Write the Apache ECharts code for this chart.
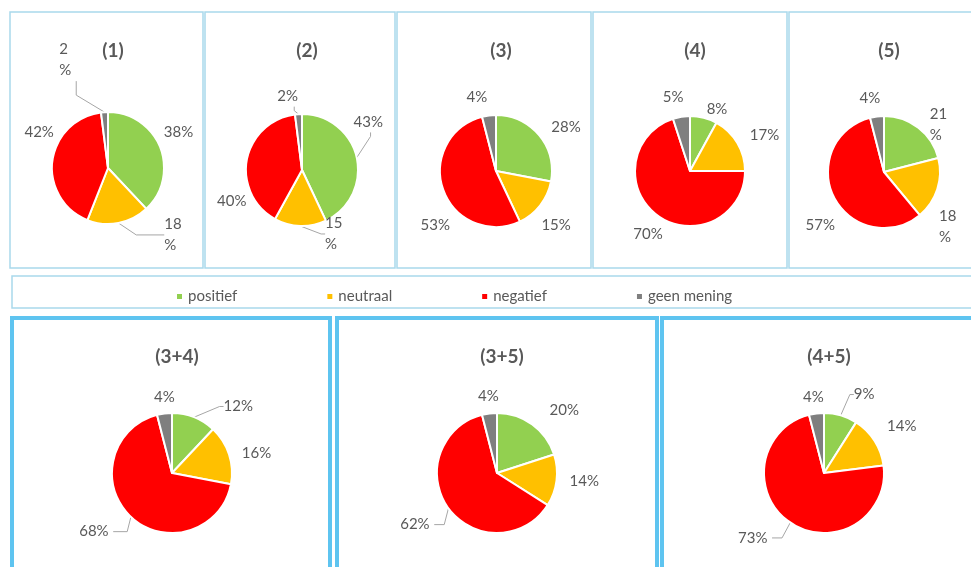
<!DOCTYPE html>
<html>
<head>
<meta charset="utf-8">
<script src="https://cdn.jsdelivr.net/npm/echarts@6/dist/echarts.min.js"></script>
<style>
html, body { margin: 0; padding: 0; background: #fff; }
#main { width: 971px; height: 567px; }
</style>
</head>
<body>
<div id="main"></div>
<script>
var categories = ['positief', 'neutraal', 'negatief', 'geen mening'];
var chartNames = ['(1)', '(2)', '(3)', '(4)', '(5)', '(3+4)', '(3+5)', '(4+5)'];

var values1 = [38, 18, 42, 2];
var values2 = [43, 15, 40, 2];
var values3 = [28, 15, 53, 4];
var values4 = [8, 17, 70, 5];
var values5 = [21, 18, 57, 4];
var values34 = [12, 16, 68, 4];
var values35 = [20, 14, 62, 4];
var values45 = [9, 14, 73, 4];

var allValues = [values1, values2, values3, values4, values5, values34, values35, values45];

// labels that Excel broke over two lines: [chart index, category index]
var wrapped = [[0, 1], [0, 3], [1, 1], [4, 0], [4, 1]];
// labels pulled further out with a longer leader: [chart, category, length2]
var longLeaders = [[0, 1, 28], [0, 3, 14], [5, 2, 14], [6, 2, 10], [7, 2, 10]];
// Excel "best fit" label nudges: [chart, category, dx, dy, show leader line]
var labelNudges = [
	[0, 0, -9, -14, 0], [0, 1, 12, 8, 1], [0, 2, 15, -28, 0], [0, 3, -8, -48, 1],
	[1, 0, -16, -35, 1], [1, 1, 52, 4, 1], [1, 2, 13, 42, 0], [1, 3, 18, -14, 1],
	[2, 0, 0, -6, 0], [2, 1, -11, 17, 0], [2, 2, 20, 34, 0], [2, 3, 17, -14, 0],
	[3, 0, -7, -5, 0], [3, 1, 0, -6, 0], [3, 2, 17, 15, 0], [3, 3, 21, -16, 0],
	[4, 1, -11, 36, 0], [4, 2, 14, 26, 0], [4, 3, 22, -14, 0],
	[5, 0, 19, -7, 1], [5, 2, 0, 12, 1], [5, 3, 29, -12, 0],
	[6, 0, 6, -11, 0], [6, 2, 0, 14, 1], [6, 3, 28, -13, 0],
	[7, 0, 3, -17, 1], [7, 1, 0, -13, 0], [7, 2, -5, 12, 1], [7, 3, 26, -12, 0]
];

// layout of the eight small pies
var centers = [[108, 168], [302, 170], [496, 171], [690, 171], [884, 172],
               [172, 473], [497, 473], [824, 473]];
var radii = [56, 56, 56, 55, 56, 60, 60, 60];
var titleTops = [36, 36, 36, 36, 36, 342, 342, 342];

var colors = ['#92d050', '#ffc000', '#ff0000', '#7f7f7f'];
var textColor = '#595959';

var dom = document.getElementById('main');
var myChart = echarts.init(dom);

function isWrapped(ci, k) {
	for (var j = 0; j < wrapped.length; j++) {
		if (wrapped[j][0] === ci && wrapped[j][1] === k) return true;
	}
	return false;
}

function leaderFor(ci, k) {
	for (var j = 0; j < longLeaders.length; j++) {
		if (longLeaders[j][0] === ci && longLeaders[j][1] === k) return longLeaders[j][2];
	}
	return 4;
}

function nudgeFor(ci, k) {
	for (var j = 0; j < labelNudges.length; j++) {
		if (labelNudges[j][0] === ci && labelNudges[j][1] === k) return labelNudges[j];
	}
	return null;
}

var titles = [];
var series = [];
for (var i = 0; i < chartNames.length; i++) {
	titles.push({
		text: chartNames[i],
		left: centers[i][0],
		top: titleTops[i],
		textAlign: 'center',
		textStyle: { fontFamily: 'Lato', fontSize: 19, fontWeight: 'bold', color: textColor }
	});
	(function (ci) {
		series.push({
			name: chartNames[ci],
			type: 'pie',
			center: centers[ci],
			radius: radii[ci],
			startAngle: 90,
			clockwise: true,
			avoidLabelOverlap: true,
			animation: false,
			itemStyle: { borderColor: '#fff', borderWidth: 2 },
			label: {
				position: 'outside',
				formatter: function (p) {
					return isWrapped(ci, p.dataIndex) ? p.value + '\n%' : p.value + '%';
				},
				fontFamily: 'Lato',
				fontSize: 15,
				lineHeight: 21,
				width: 34,
				color: textColor
			},
			labelLine: { show: false, length: 4, length2: 4, lineStyle: { color: '#a6a6a6', width: 1 } },
			labelLayout: function (params) {
				var n = nudgeFor(ci, params.dataIndex);
				if (!n) return {};
				var r = params.labelRect;
				var txtW = params.text.indexOf('\n') >= 0 ? 18 : 30;
				// keep the visible text where it was, then nudge it
				var left = params.align === 'right' ? r.x + r.width - txtW : r.x;
				return {
					x: left + n[2],
					y: r.y + n[3],
					align: 'left',
					verticalAlign: 'top'
				};
			},
			emphasis: { disabled: true },
			data: categories.map(function (c, k) {
				var n = nudgeFor(ci, k);
				return {
					name: c,
					value: allValues[ci][k],
					labelLine: { show: !!(n && n[4]), length2: leaderFor(ci, k) }
				};
			})
		});
	})(i);
}

function box(x, y, w, h, color, lw) {
	return {
		type: 'rect',
		shape: { x: x, y: y, width: w, height: h },
		style: { fill: 'none', stroke: color, lineWidth: lw },
		silent: true
	};
}

var option = {
	color: colors,
	title: titles,
	legend: {
		data: categories,
		left: 170,
		top: 284,
		icon: 'rect',
		itemWidth: 7,
		itemHeight: 7,
		itemGap: 88,
		textStyle: { fontFamily: 'Lato', fontSize: 15, color: textColor }
	},
	graphic: [
		box(10, 12, 193, 256, '#a9d9ec', 1.5),
		box(205, 12, 190, 256, '#a9d9ec', 1.5),
		box(397, 12, 194, 256, '#a9d9ec', 1.5),
		box(593, 12, 194, 256, '#a9d9ec', 1.5),
		box(789, 12, 190, 256, '#a9d9ec', 1.5),
		box(12, 276, 965, 32, '#a9d9ec', 1.5),
		box(12, 318, 318, 255, '#5ec4f0', 4),
		box(337, 318, 320, 255, '#5ec4f0', 4),
		box(662, 318, 315, 255, '#5ec4f0', 4)
	],
	series: series
};

myChart.setOption(option);
window.onresize = function () {
	myChart.resize();
};
</script>
</body>
</html>
